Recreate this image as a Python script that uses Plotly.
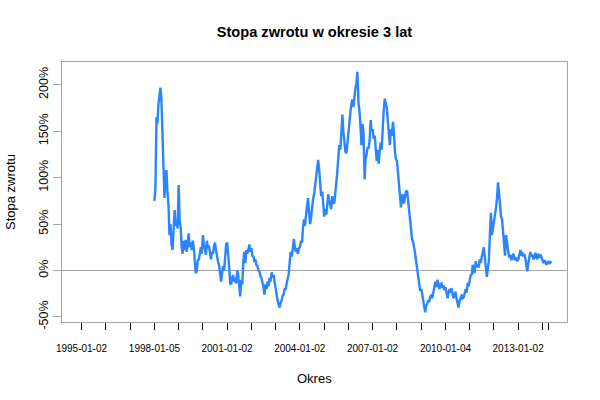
import pandas as pd
import plotly.graph_objects as go

# Semi-monthly readings (in %) of the 3-year rate of return, Jan 1998 - Apr 2014
# one row per year, two readings per month
returns_1998 = [75, 88, 165, 158, 178, 190, 197, 186, 150, 135, 78, 105, 108, 85, 70, 38, 50, 28, 22, 42, 65, 48, 55, 45]
returns_1999 = [92, 55, 45, 25, 18, 32, 22, 33, 20, 28, 40, 25, 30, 22, 32, 25, 10, -3, 0, 11, 12, 18, 25, 18]
returns_2000 = [38, 28, 22, 17, 32, 24, 27, 18, 12, 20, 18, 26, 30, 22, 14, 10, 5, -2, -12, -3, 5, 0, 18, 28]
returns_2001 = [30, 20, 2, -14, -15, -8, -5, -12, -8, -14, 0, -5, -22, -28, -10, -15, 10, 20, 8, 22, 18, 24, 28, 20]
returns_2002 = [24, 16, 15, 9, 12, 6, 5, 0, -1, -6, -8, -13, -18, -26, -15, -20, -12, -17, -8, -12, -2, -6, -5, -12]
returns_2003 = [-18, -26, -33, -38, -40, -35, -32, -27, -26, -20, -20, -14, -10, -4, 10, 20, 15, 22, 34, 26, 20, 24, 18, 24]
returns_2004 = [25, 32, 30, 45, 55, 48, 60, 68, 78, 65, 50, 56, 70, 76, 82, 90, 96, 105, 119, 110, 90, 80, 85, 76]
returns_2005 = [58, 66, 60, 70, 82, 76, 72, 66, 80, 74, 72, 82, 88, 105, 122, 135, 130, 145, 168, 150, 137, 128, 126, 138]
returns_2006 = [150, 160, 172, 180, 184, 176, 190, 196, 202, 214, 180, 172, 155, 135, 158, 148, 98, 120, 125, 132, 132, 140, 162, 150]
returns_2007 = [152, 142, 145, 134, 118, 130, 115, 128, 138, 130, 160, 172, 185, 178, 175, 162, 145, 135, 152, 145, 160, 150, 128, 120]
returns_2008 = [118, 108, 90, 78, 68, 80, 82, 72, 78, 85, 86, 76, 62, 50, 40, 34, 30, 25, 18, 10, 0, -8, -16, -22]
returns_2009 = [-20, -26, -32, -38, -45, -38, -36, -32, -34, -29, -26, -30, -22, -17, -12, -18, -10, -14, -20, -15, -14, -19, -16, -21]
returns_2010 = [-18, -24, -30, -24, -20, -24, -19, -25, -30, -26, -23, -30, -34, -40, -33, -29, -26, -30, -29, -25, -20, -24, -13, -17]
returns_2011 = [-10, -5, -4, 6, 2, -3, 10, 4, 7, 3, 12, 8, 15, 22, 25, 14, 0, -7, 3, 10, 40, 62, 38, 45]
returns_2012 = [48, 55, 68, 78, 95, 85, 70, 58, 55, 38, 28, 16, 38, 30, 20, 14, 17, 12, 12, 18, 15, 11, 14, 10]
returns_2013 = [12, 16, 22, 16, 20, 15, 18, 14, 4, -1, 8, 14, 20, 15, 17, 12, 14, 19, 15, 12, 18, 14, 17, 14]
returns_2014 = [12, 8, 11, 7, 6, 8, 10, 7, 9, 8]

returns_pct = (returns_1998 + returns_1999 + returns_2000 + returns_2001 + returns_2002
               + returns_2003 + returns_2004 + returns_2005 + returns_2006 + returns_2007
               + returns_2008 + returns_2009 + returns_2010 + returns_2011 + returns_2012
               + returns_2013 + returns_2014)
dates = pd.date_range("1998-01-01", periods=len(returns_pct), freq="SMS") + pd.Timedelta(days=4)

# Axis ticks
x_tick_dates = [
    "1995-01-02", "1996-01-02", "1997-01-02", "1998-01-05", "1999-01-04",
    "2000-01-03", "2001-01-02", "2002-01-02", "2003-01-02", "2004-01-02",
    "2005-01-03", "2006-01-02", "2007-01-02", "2008-01-02", "2009-01-02",
    "2010-01-04", "2011-01-03", "2012-01-02", "2013-01-02", "2014-01-02",
    "2014-04-10",
]
x_labeled = ["1995-01-02", "1998-01-05", "2001-01-02", "2004-01-02",
             "2007-01-02", "2010-01-04", "2013-01-02"]
x_tick_text = [d if d in x_labeled else "" for d in x_tick_dates]

y_tick_vals = [-50, 0, 50, 100, 150, 200]
y_tick_text = ["-50%", "0%", "50%", "100%", "150%", "200%"]

gray = "#a6a6a6"
font = "Liberation Sans, Arial, sans-serif"

fig = go.Figure()
fig.add_trace(go.Scatter(
    x=dates, y=returns_pct, mode="lines",
    line=dict(color="#2a85ff", width=2.4),
    showlegend=False, hoverinfo="skip",
))

fig.update_layout(
    width=600, height=400,
    margin=dict(l=62, r=33, t=62, b=78),
    paper_bgcolor="white", plot_bgcolor="white",
    font=dict(family=font, color="black"),
    title=dict(text="<b>Stopa zwrotu w okresie 3 lat</b>",
               x=0.5, xref="paper", xanchor="center",
               y=1 - 32 / 400, yref="container", yanchor="middle",
               font=dict(size=14.6, family=font, color="black")),
    xaxis=dict(
        type="date", range=["1994-03-15", "2015-01-08"],
        showgrid=False, zeroline=False,
        showline=True, mirror=True, linecolor=gray, linewidth=1,
        tickmode="array", tickvals=x_tick_dates, ticktext=x_tick_text,
        ticks="outside", ticklen=7, tickcolor="black", tickwidth=1,
        tickfont=dict(size=10, family=font, color="black"),
        ticklabelstandoff=10,
    ),
    yaxis=dict(
        range=[-55.5, 224.5],
        showgrid=False,
        zeroline=True, zerolinecolor=gray, zerolinewidth=1,
        showline=True, mirror=True, linecolor=gray, linewidth=1,
        tickmode="array", tickvals=y_tick_vals, ticktext=y_tick_text,
        ticks="outside", ticklen=8, tickcolor=gray, tickwidth=1,
        tickangle=-90,
        tickfont=dict(size=12.5, family=font, color="black"),
    ),
    annotations=[
        dict(text="Okres", xref="paper", x=0.5, yref="paper",
             y=-(378 - 322) / 260, xanchor="center", yanchor="middle",
             showarrow=False, font=dict(size=13, family=font, color="black")),
        dict(text="Stopa zwrotu", xref="paper", x=-(62 - 10) / 505,
             yref="paper", y=0.5, xanchor="center", yanchor="middle",
             textangle=-90, showarrow=False,
             font=dict(size=13, family=font, color="black")),
    ],
)

# remove the browser's default 8px page margin so the figure fills the window
fig.write_html("out.html",
               config={"displayModeBar": False, "staticPlot": True},
               post_script="document.body.style.margin='0';document.body.style.overflow='hidden';")
